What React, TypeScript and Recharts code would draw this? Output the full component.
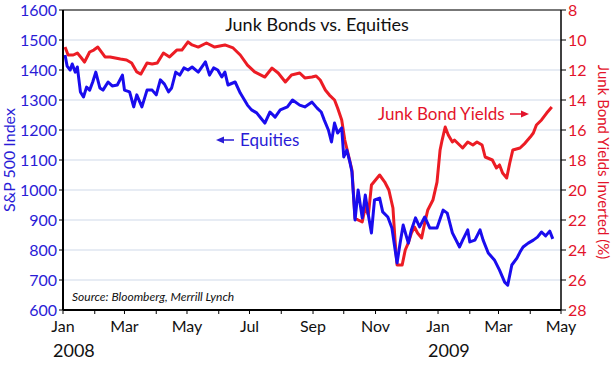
import React from 'react';
import { LineChart, Line, XAxis, YAxis, CartesianGrid, ReferenceLine } from 'recharts';

const equityDates = [
  '2008-01-03','2008-01-05','2008-01-08','2008-01-10','2008-01-13','2008-01-15','2008-01-18','2008-01-21','2008-01-24','2008-01-27',
  '2008-01-30','2008-02-02','2008-02-06','2008-02-09','2008-02-14','2008-02-18','2008-02-23','2008-02-28','2008-03-01','2008-03-06',
  '2008-03-10','2008-03-13','2008-03-18','2008-03-23','2008-03-28','2008-04-01','2008-04-05','2008-04-09','2008-04-13','2008-04-16',
  '2008-04-20','2008-04-24','2008-04-28','2008-05-02','2008-05-06','2008-05-12','2008-05-19','2008-05-23','2008-05-27','2008-05-31',
  '2008-06-04','2008-06-07','2008-06-10','2008-06-17','2008-06-22','2008-06-29','2008-07-03','2008-07-08','2008-07-12','2008-07-16',
  '2008-07-21','2008-07-26','2008-07-31','2008-08-07','2008-08-12','2008-08-19','2008-08-24','2008-08-31','2008-09-05','2008-09-09',
  '2008-09-12','2008-09-16','2008-09-19','2008-09-22','2008-09-25','2008-09-29','2008-10-01','2008-10-04','2008-10-07','2008-10-09',
  '2008-10-12','2008-10-15','2008-10-19','2008-10-22','2008-10-25','2008-10-28','2008-10-31','2008-11-05','2008-11-08','2008-11-13',
  '2008-11-17','2008-11-22','2008-11-25','2008-11-28','2008-12-03','2008-12-06','2008-12-10','2008-12-14','2008-12-19','2008-12-24',
  '2008-12-31','2009-01-06','2009-01-10','2009-01-15','2009-01-22','2009-01-25','2009-01-30','2009-02-01','2009-02-06','2009-02-11',
  '2009-02-14','2009-02-19','2009-02-25','2009-03-02','2009-03-07','2009-03-10','2009-03-14','2009-03-19','2009-03-22','2009-03-25',
  '2009-03-30','2009-04-04','2009-04-08','2009-04-12','2009-04-16','2009-04-20','2009-04-23',
];
const equityValues = [
  1450,1413,1400,1420,1393,1410,1327,1310,1343,1333,
  1360,1393,1340,1333,1360,1347,1350,1383,1333,1327,
  1277,1317,1277,1333,1333,1317,1367,1353,1327,1340,
  1393,1383,1407,1400,1410,1393,1427,1383,1407,1400,
  1377,1393,1350,1360,1323,1283,1267,1257,1240,1223,
  1260,1243,1267,1277,1300,1283,1277,1293,1273,1260,
  1233,1200,1160,1223,1190,1207,1110,1133,1093,1060,
  900,1000,907,983,917,857,967,973,927,910,
  873,757,823,883,823,867,907,877,910,873,
  873,933,923,857,810,833,867,827,833,867,
  833,790,767,733,693,683,750,773,793,810,
  823,833,843,860,847,863,837,
];

const yieldDates = [
  '2008-01-03','2008-01-06','2008-01-11','2008-01-15','2008-01-19','2008-01-22','2008-01-27','2008-01-31','2008-02-04','2008-02-11',
  '2008-02-16','2008-02-21','2008-02-26','2008-03-03','2008-03-08','2008-03-13','2008-03-17','2008-03-23','2008-03-28','2008-04-02',
  '2008-04-08','2008-04-14','2008-04-21','2008-04-26','2008-05-02','2008-05-06','2008-05-12','2008-05-20','2008-05-28','2008-06-07',
  '2008-06-15','2008-06-22','2008-06-29','2008-07-06','2008-07-16','2008-07-23','2008-07-29','2008-08-05','2008-08-11','2008-08-19',
  '2008-08-24','2008-08-31','2008-09-04','2008-09-08','2008-09-13','2008-09-17','2008-09-22','2008-09-25','2008-09-29','2008-10-02',
  '2008-10-05','2008-10-09','2008-10-12','2008-10-15','2008-10-19','2008-10-22','2008-10-25','2008-10-28','2008-11-01','2008-11-05',
  '2008-11-10','2008-11-14','2008-11-18','2008-11-20','2008-11-22','2008-11-27','2008-11-30','2008-12-03','2008-12-06','2008-12-09',
  '2008-12-12','2008-12-16','2008-12-19','2008-12-22','2008-12-27','2008-12-31','2009-01-03','2009-01-05','2009-01-08','2009-01-11',
  '2009-01-15','2009-01-17','2009-01-20','2009-01-25','2009-01-30','2009-02-04','2009-02-08','2009-02-13','2009-02-16','2009-02-23',
  '2009-02-27','2009-03-02','2009-03-05','2009-03-09','2009-03-12','2009-03-15','2009-03-22','2009-03-27','2009-04-01','2009-04-04',
  '2009-04-07','2009-04-12','2009-04-17','2009-04-22',
];
const yieldValues = [
  10.47,11.0,11.0,10.87,11.2,11.47,10.8,10.67,10.47,11.13,
  11.13,11.2,11.27,11.33,11.53,12.13,12.27,11.53,11.6,11.53,
  10.87,11.13,10.67,10.67,10.13,10.33,10.47,10.2,10.47,10.33,
  10.53,11.0,11.67,12.13,12.47,11.87,12.2,12.8,12.33,12.2,
  12.53,12.47,12.4,12.67,13.33,13.67,14.0,14.53,15.33,16.67,
  17.53,18.67,21.87,22.0,22.13,21.13,21.67,19.67,19.33,19.0,
  19.47,20.0,21.2,23.33,25.0,25.0,24.0,23.53,22.87,22.47,
  22.87,23.2,22.2,21.33,20.67,19.47,17.33,16.67,15.8,16.33,
  16.8,16.67,16.87,17.2,16.8,17.0,16.8,17.0,17.8,18.0,
  18.53,18.33,18.87,19.2,18.2,17.33,17.2,16.87,16.47,16.2,
  15.67,15.33,14.87,14.47,
];

const monthStarts = [
  '2008-01-01','2008-02-01','2008-03-01','2008-04-01','2008-05-01','2008-06-01','2008-07-01','2008-08-01','2008-09-01',
  '2008-10-01','2008-11-01','2008-12-01','2009-01-01','2009-02-01','2009-03-01','2009-04-01','2009-05-01',
];
const monthLabels = ['Jan','Feb','Mar','Apr','May','Jun','Jul','Aug','Sep','Oct','Nov','Dec'];
const leftTicks = [600,700,800,900,1000,1100,1200,1300,1400,1500,1600];
const rightTicks = [8,10,12,14,16,18,20,22,24,26,28];

const FONT = 'Lato, "Open Sans", sans-serif';
const BLUE_TEXT = '#2a1cd6';
const BLUE_LINE = '#1a0cee';
const RED_TEXT = '#e3132b';
const RED_LINE = '#ec1c24';

const ts = (s: string) => Date.UTC(+s.slice(0, 4), +s.slice(5, 7) - 1, +s.slice(8, 10));

const equityData = equityDates.map((d, i) => ({ t: ts(d), v: equityValues[i] }));
const yieldData = yieldDates.map((d, i) => ({ t: ts(d), v: yieldValues[i] }));
const monthTs = monthStarts.map(ts);

const XTick = (props: any) => {
  const { x, y, payload } = props;
  const i = monthTs.indexOf(payload.value);
  const s = monthStarts[i];
  const m = +s.slice(5, 7) - 1;
  const showLabel = m % 2 === 0;
  return (
    <g>
      {showLabel && (
        <text x={x} y={y + 16} textAnchor="middle" fontSize={16} fontFamily={FONT} fill="#111">
          {monthLabels[m]}
        </text>
      )}
      {m === 0 && (
        <text x={x - 10} y={y + 41} textAnchor="start" fontSize={18} fontFamily={FONT} fill="#111">
          {s.slice(0, 4)}
        </text>
      )}
    </g>
  );
};

export default function App() {
  return (
    <div style={{ position: 'absolute', left: 0, top: 0, width: 614, height: 372, background: '#fff' }}>
      <LineChart width={614} height={372} margin={{ top: 10, right: 0, bottom: 0, left: 0 }}>
        <CartesianGrid yAxisId="left" vertical={false} stroke="#dfe6f0" strokeWidth={1.5} />
        <XAxis
          type="number"
          dataKey="t"
          domain={[monthTs[0], monthTs[monthTs.length - 1]]}
          ticks={monthTs}
          interval={0}
          tick={<XTick />}
          tickSize={4}
          tickLine={{ stroke: '#000' }}
          axisLine={{ stroke: '#000', strokeWidth: 2 }}
          height={62}
          allowDataOverflow
        />
        <YAxis
          yAxisId="left"
          orientation="left"
          width={63}
          domain={[600, 1600]}
          ticks={leftTicks}
          interval={0}
          tick={{ fill: BLUE_TEXT, fontSize: 16, fontFamily: FONT }}
          tickSize={4}
          tickLine={{ stroke: '#000' }}
          axisLine={{ stroke: '#000', strokeWidth: 2 }}
        />
        <YAxis
          yAxisId="right"
          orientation="right"
          width={53}
          domain={[8, 28]}
          reversed
          ticks={rightTicks}
          interval={0}
          tick={{ fill: RED_TEXT, fontSize: 16, fontFamily: FONT }}
          tickSize={5}
          tickLine={{ stroke: '#000' }}
          axisLine={{ stroke: '#000', strokeWidth: 1.5 }}
        />
        <ReferenceLine yAxisId="left" y={1600} stroke="#777" strokeWidth={2} />
        <Line
          data={yieldData}
          yAxisId="right"
          dataKey="v"
          type="linear"
          stroke={RED_LINE}
          strokeWidth={3}
          dot={false}
          strokeLinejoin="round"
          isAnimationActive={false}
        />
        <Line
          data={equityData}
          yAxisId="left"
          dataKey="v"
          type="linear"
          stroke={BLUE_LINE}
          strokeWidth={3}
          dot={false}
          strokeLinejoin="round"
          isAnimationActive={false}
        />
      </LineChart>
      <svg
        width={614}
        height={372}
        style={{ position: 'absolute', left: 0, top: 0, pointerEvents: 'none' }}
        fontFamily={FONT}
      >
        <text x={317} y={31} textAnchor="middle" fontSize={18} fill="#111">Junk Bonds vs. Equities</text>
        <line x1={221} y1={140} x2={234} y2={140} stroke={BLUE_TEXT} strokeWidth={1.5} />
        <polygon points="216,140 224,136.5 224,143.5" fill={BLUE_TEXT} />
        <text x={240} y={146} fontSize={17} fill={BLUE_TEXT}>Equities</text>
        <text x={378} y={120} fontSize={17} fill={RED_TEXT}>Junk Bond Yields</text>
        <line x1={510} y1={114} x2={524} y2={114} stroke={RED_TEXT} strokeWidth={1.5} />
        <polygon points="529,114 521,110.5 521,117.5" fill={RED_TEXT} />
        <text x={72} y={301} fontSize={12} fontStyle="italic" fill="#111">Source: Bloomberg, Merrill Lynch</text>
        <text transform="translate(15,160) rotate(-90)" textAnchor="middle" fontSize={16} fill={BLUE_TEXT}>S&amp;P 500 Index</text>
        <text transform="translate(598,162) rotate(90)" textAnchor="middle" fontSize={15} fill={RED_TEXT}>Junk Bond Yields Inverted (%)</text>
      </svg>
    </div>
  );
}
